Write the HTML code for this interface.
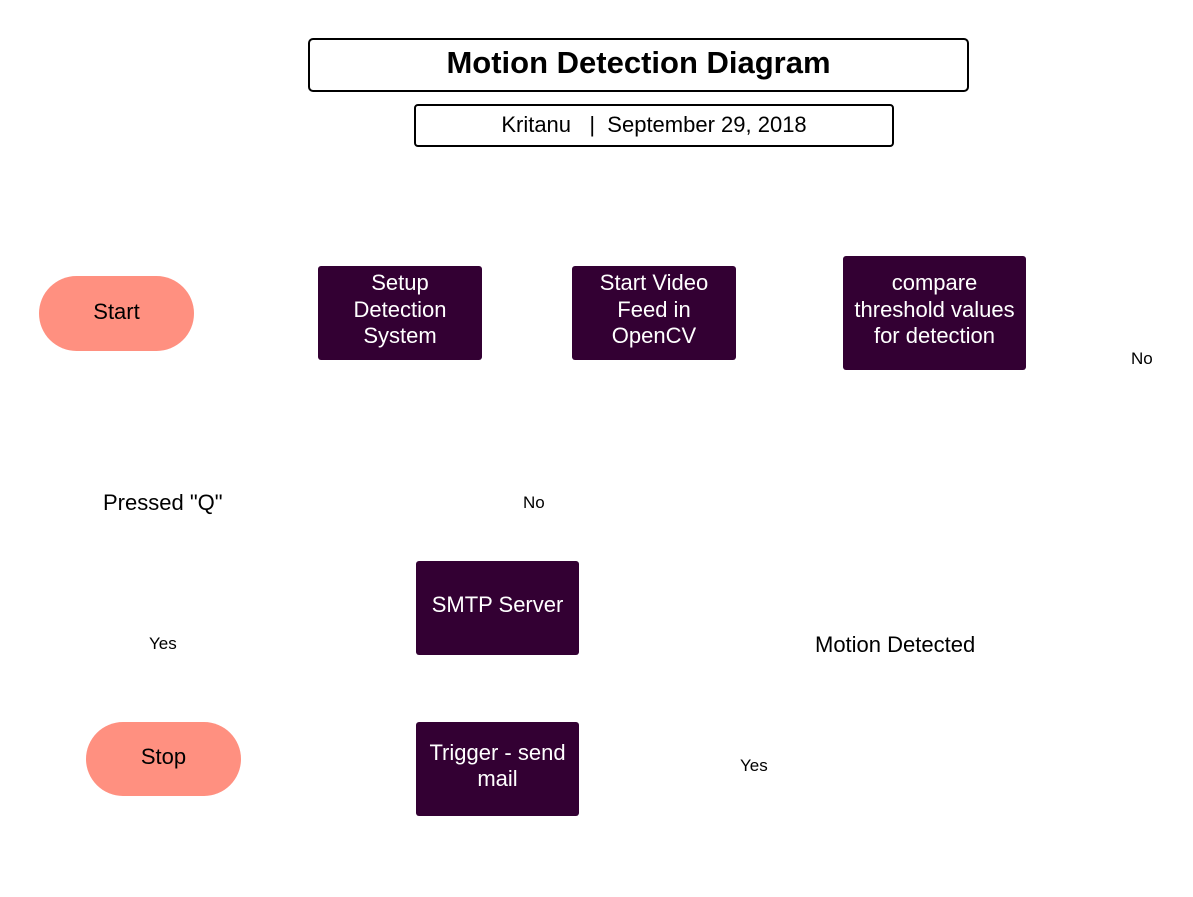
<!DOCTYPE html>
<html><head><meta charset="utf-8"><style>
body{margin:0;width:1193px;height:897px;background:#fff;position:relative;font-family:"Liberation Sans",sans-serif;overflow:hidden}
.a{position:absolute;box-sizing:border-box;display:flex;align-items:center;justify-content:center;text-align:center}
.b{background:#330033;color:#fff;border-radius:3px;font-size:22px;line-height:26.5px}
.p{background:#ff9080;color:#000;border-radius:38px;font-size:22px}
.t{position:absolute;white-space:nowrap}
</style></head><body>
<div class="a" style="left:308px;top:38px;width:661px;height:54px;border:2px solid #000;border-radius:5px;font-weight:bold;font-size:31px;padding-bottom:4px">Motion Detection Diagram</div>
<div class="a" style="left:414px;top:104px;width:480px;height:43px;border:2px solid #000;border-radius:4px;font-size:22px;white-space:pre;padding-bottom:2px">Kritanu   |  September 29, 2018</div>
<div class="a p" style="left:39px;top:276px;width:155px;height:75px;padding-bottom:4px">Start</div>
<div class="a p" style="left:86px;top:722px;width:155px;height:74px;padding-bottom:4px">Stop</div>
<div class="a b" style="left:318px;top:266px;width:164px;height:94px;padding-bottom:6px">Setup<br>Detection<br>System</div>
<div class="a b" style="left:572px;top:266px;width:164px;height:94px;padding-bottom:6px">Start Video<br>Feed in<br>OpenCV</div>
<div class="a b" style="left:843px;top:256px;width:183px;height:114px;padding-bottom:6px">compare<br>threshold values<br>for detection</div>
<div class="a b" style="left:416px;top:561px;width:163px;height:94px;padding-bottom:6px">SMTP Server</div>
<div class="a b" style="left:416px;top:722px;width:163px;height:94px;padding-bottom:6px">Trigger - send<br>mail</div>
<div class="t" style="left:103px;top:490px;font-size:22px">Pressed "Q"</div>
<div class="t" style="left:815px;top:632px;font-size:22px">Motion Detected</div>
<div class="t" style="left:1131px;top:349px;font-size:17px">No</div>
<div class="t" style="left:523px;top:493px;font-size:17px">No</div>
<div class="t" style="left:149px;top:634px;font-size:17px">Yes</div>
<div class="t" style="left:740px;top:756px;font-size:17px">Yes</div>
</body></html>
